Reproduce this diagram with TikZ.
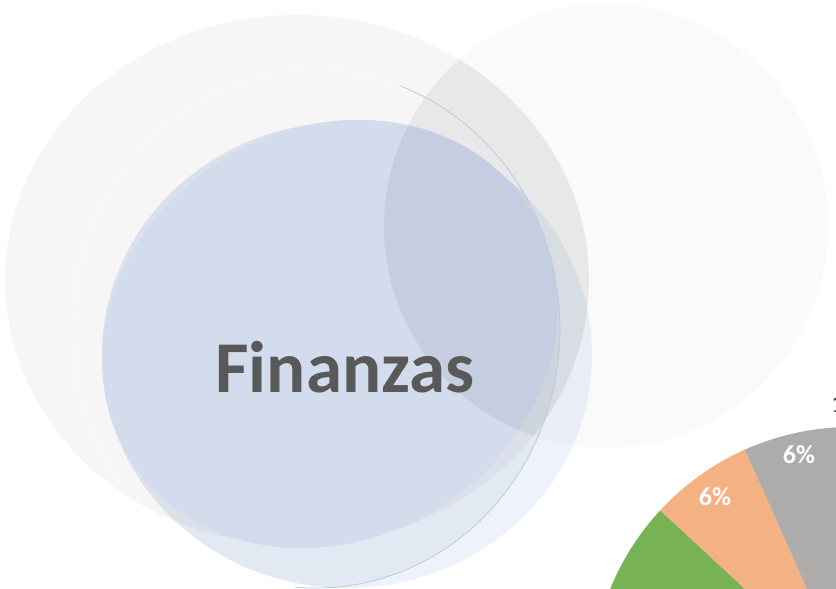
\documentclass[tikz,border=0pt]{standalone}
\usepackage{fontspec}
\setmainfont{Carlito}
\definecolor{cL}{HTML}{F6F6F6}
\definecolor{cR}{HTML}{FAFAFA}
\definecolor{cLens}{HTML}{E8E8E8}
\definecolor{cB}{HTML}{EEF2FA}
\definecolor{cBC}{HTML}{F4F6F8}
\definecolor{cA}{HTML}{D3DCEC}
\definecolor{cAR}{HTML}{C5CDE0}
\definecolor{cLine}{HTML}{B4C6E6}
\definecolor{cText}{HTML}{595959}
\definecolor{cGreen}{HTML}{77B255}
\definecolor{cPeach}{HTML}{F4B183}
\definecolor{cGray}{HTML}{AEABAB}
\definecolor{cLabel}{HTML}{404040}
\begin{document}
\begin{tikzpicture}[x=1pt,y=-1pt,
  pctlabel/.style={font=\bfseries\fontsize{26}{30}\selectfont, text=white, anchor=base, inner sep=0pt},
  titlelabel/.style={font=\bfseries\fontsize{73}{80}\selectfont, text=cText, anchor=base, inner sep=0pt},
  outerlabel/.style={font=\fontsize{26}{30}\selectfont, text=cLabel, anchor=base west, inner sep=0pt}
]
\useasboundingbox (0,0) rectangle (836,589);
\fill[white] (0,0) rectangle (836,589);
% grey circles
\fill[cL] (297,280) ellipse [x radius=292pt, y radius=265pt];
\fill[cR] (606,226) circle [radius=222pt];
\begin{scope}
  \clip (297,280) ellipse [x radius=292pt, y radius=265pt];
  \fill[cLens] (606,226) circle [radius=222pt];
\end{scope}
% light blue halo
\fill[cB, blend mode=multiply] (347,355) ellipse [x radius=245pt, y radius=233pt];
\begin{scope}
  \clip (347,355) ellipse [x radius=245pt, y radius=233pt];
  \fill[cBC, blend mode=multiply] (316,329) ellipse [x radius=244pt, y radius=259pt];
\end{scope}
% thin outline ellipse
\draw[white, line width=0.8pt, opacity=0.6] ([shift={(316,329)}]70:244pt and 259pt) arc[start angle=70, end angle=265, x radius=244pt, y radius=259pt];
\draw[cLine, line width=0.7pt] ([shift={(316,329)}]-95:244pt and 259pt) arc[start angle=-95, end angle=70, x radius=244pt, y radius=259pt];
% main blue ellipse
\fill[cA, rotate around={32:(330,334)}] (330,334) ellipse [x radius=236pt, y radius=205pt];
\begin{scope}
  \clip[rotate around={32:(330,334)}] (330,334) ellipse [x radius=236pt, y radius=205pt];
  \fill[cAR] (606,226) circle [radius=222pt];
\end{scope}
\node[titlelabel] (fin) at (345,392) {Finanzas};
% pie
\coordinate (pc) at (851,687);
\fill[cGreen] (pc) -- ([shift={(pc)}]137.2:260pt) arc[start angle=137.2, end angle=200, radius=260pt] -- cycle;
\fill[cPeach] (pc) -- ([shift={(pc)}]114.1:260pt) arc[start angle=114.1, end angle=137.2, radius=260pt] -- cycle;
\fill[cGray] (pc) -- ([shift={(pc)}]85:260pt) arc[start angle=85, end angle=114.1, radius=260pt] -- cycle;
\node[pctlabel] (g6) at (799,463) {6\%};
\node[pctlabel] (p6) at (715,505) {6\%};
\node[outerlabel] (one) at (831,412.5) {1};
\end{tikzpicture}
\end{document}
